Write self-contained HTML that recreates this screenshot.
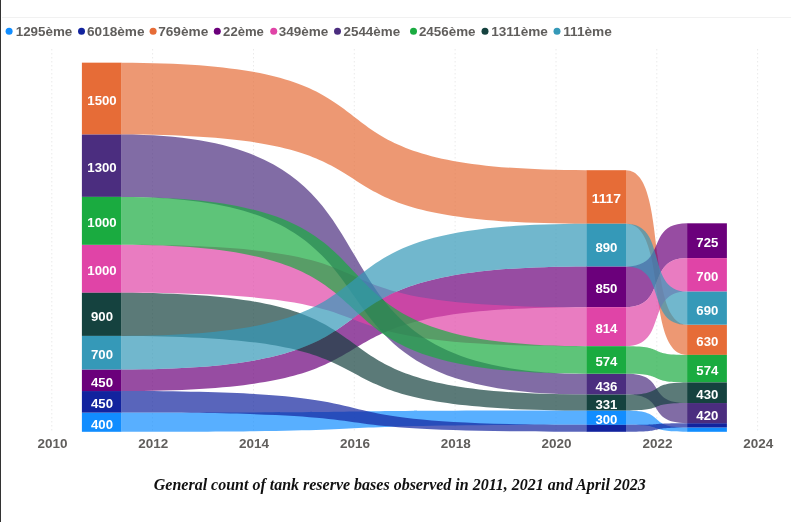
<!DOCTYPE html>
<html><head><meta charset="utf-8"><title>Ribbon chart</title>
<style>
html,body{margin:0;padding:0;background:#fff;}
body{width:791px;height:522px;position:relative;overflow:hidden;font-family:"Liberation Sans",sans-serif;}
.lb{position:absolute;left:0;top:0;width:1px;height:522px;background:#333;}
.hl{position:absolute;left:2px;top:17px;width:789px;height:1px;background:#f1f1f1;}
text{font-family:"Liberation Sans",sans-serif;font-weight:bold;}
.bl{fill:#fff;font-size:12.2px;}
.ax{fill:#605e5c;font-size:12.2px;}
.lg{fill:#605e5c;font-size:12.7px;}
.cap{font-family:"Liberation Serif",serif;font-style:italic;font-weight:bold;font-size:16px;fill:#111;}
</style></head><body>
<svg width="791" height="522" viewBox="0 0 791 522" style="position:absolute;left:0;top:0">
<line x1="51.8" y1="49" x2="51.8" y2="432" stroke="#eaeaea" stroke-width="1" stroke-dasharray="1.5,2.5"/>
<line x1="152.6" y1="49" x2="152.6" y2="432" stroke="#eaeaea" stroke-width="1" stroke-dasharray="1.5,2.5"/>
<line x1="253.5" y1="49" x2="253.5" y2="432" stroke="#eaeaea" stroke-width="1" stroke-dasharray="1.5,2.5"/>
<line x1="354.3" y1="49" x2="354.3" y2="432" stroke="#eaeaea" stroke-width="1" stroke-dasharray="1.5,2.5"/>
<line x1="455.1" y1="49" x2="455.1" y2="432" stroke="#eaeaea" stroke-width="1" stroke-dasharray="1.5,2.5"/>
<line x1="556.0" y1="49" x2="556.0" y2="432" stroke="#eaeaea" stroke-width="1" stroke-dasharray="1.5,2.5"/>
<line x1="656.8" y1="49" x2="656.8" y2="432" stroke="#eaeaea" stroke-width="1" stroke-dasharray="1.5,2.5"/>
<line x1="757.6" y1="49" x2="757.6" y2="432" stroke="#eaeaea" stroke-width="1" stroke-dasharray="1.5,2.5"/>
<path d="M121.50,412.62 C446.86,412.62 260.94,410.47 586.30,410.47 L586.30,424.85 C260.94,424.85 446.86,431.80 121.50,431.80 Z" fill="#118DFF" fill-opacity="0.7"/>
<path d="M626.00,410.47 C668.77,410.47 644.33,427.49 687.10,427.49 L687.10,431.80 C644.33,431.80 668.77,424.85 626.00,424.85 Z" fill="#118DFF" fill-opacity="0.7"/>
<path d="M121.50,391.05 C446.86,391.05 260.94,424.85 586.30,424.85 L586.30,431.80 C260.94,431.80 446.86,412.62 121.50,412.62 Z" fill="#12239E" fill-opacity="0.7"/>
<path d="M626.00,424.85 C668.77,424.85 644.33,423.17 687.10,423.17 L687.10,427.49 C644.33,427.49 668.77,431.80 626.00,431.80 Z" fill="#12239E" fill-opacity="0.7"/>
<path d="M121.50,62.66 C446.86,62.66 260.94,170.19 586.30,170.19 L586.30,223.74 C260.94,223.74 446.86,134.57 121.50,134.57 Z" fill="#E66C37" fill-opacity="0.7"/>
<path d="M626.00,170.19 C668.77,170.19 644.33,324.70 687.10,324.70 L687.10,354.90 C644.33,354.90 668.77,223.74 626.00,223.74 Z" fill="#E66C37" fill-opacity="0.7"/>
<path d="M121.50,369.48 C446.86,369.48 260.94,266.41 586.30,266.41 L586.30,307.16 C260.94,307.16 446.86,391.05 121.50,391.05 Z" fill="#6B007B" fill-opacity="0.7"/>
<path d="M626.00,266.41 C668.77,266.41 644.33,223.31 687.10,223.31 L687.10,258.07 C644.33,258.07 668.77,307.16 626.00,307.16 Z" fill="#6B007B" fill-opacity="0.7"/>
<path d="M121.50,244.83 C446.86,244.83 260.94,307.16 586.30,307.16 L586.30,346.18 C260.94,346.18 446.86,292.77 121.50,292.77 Z" fill="#E044A7" fill-opacity="0.7"/>
<path d="M626.00,307.16 C668.77,307.16 644.33,258.07 687.10,258.07 L687.10,291.62 C644.33,291.62 668.77,346.18 626.00,346.18 Z" fill="#E044A7" fill-opacity="0.7"/>
<path d="M121.50,134.57 C446.86,134.57 260.94,373.70 586.30,373.70 L586.30,394.60 C260.94,394.60 446.86,196.89 121.50,196.89 Z" fill="#4B2D7F" fill-opacity="0.7"/>
<path d="M626.00,373.70 C668.77,373.70 644.33,403.04 687.10,403.04 L687.10,423.17 C644.33,423.17 668.77,394.60 626.00,394.60 Z" fill="#4B2D7F" fill-opacity="0.7"/>
<path d="M121.50,196.89 C446.86,196.89 260.94,346.18 586.30,346.18 L586.30,373.70 C260.94,373.70 446.86,244.83 121.50,244.83 Z" fill="#1AAB40" fill-opacity="0.7"/>
<path d="M626.00,346.18 C668.77,346.18 644.33,354.90 687.10,354.90 L687.10,382.42 C644.33,382.42 668.77,373.70 626.00,373.70 Z" fill="#1AAB40" fill-opacity="0.7"/>
<path d="M121.50,292.77 C446.86,292.77 260.94,394.60 586.30,394.60 L586.30,410.47 C260.94,410.47 446.86,335.92 121.50,335.92 Z" fill="#15423F" fill-opacity="0.7"/>
<path d="M626.00,394.60 C668.77,394.60 644.33,382.42 687.10,382.42 L687.10,403.04 C644.33,403.04 668.77,410.47 626.00,410.47 Z" fill="#15423F" fill-opacity="0.7"/>
<path d="M121.50,335.92 C446.86,335.92 260.94,223.74 586.30,223.74 L586.30,266.41 C260.94,266.41 446.86,369.48 121.50,369.48 Z" fill="#3599B8" fill-opacity="0.7"/>
<path d="M626.00,223.74 C668.77,223.74 644.33,291.62 687.10,291.62 L687.10,324.70 C644.33,324.70 668.77,266.41 626.00,266.41 Z" fill="#3599B8" fill-opacity="0.7"/>
<rect x="81.90" y="412.62" width="39.60" height="19.18" fill="#118DFF"/>
<rect x="81.90" y="391.05" width="39.60" height="21.57" fill="#12239E"/>
<rect x="81.90" y="62.66" width="39.60" height="71.91" fill="#E66C37"/>
<rect x="81.90" y="369.48" width="39.60" height="21.57" fill="#6B007B"/>
<rect x="81.90" y="244.83" width="39.60" height="47.94" fill="#E044A7"/>
<rect x="81.90" y="134.57" width="39.60" height="62.32" fill="#4B2D7F"/>
<rect x="81.90" y="196.89" width="39.60" height="47.94" fill="#1AAB40"/>
<rect x="81.90" y="292.77" width="39.60" height="43.15" fill="#15423F"/>
<rect x="81.90" y="335.92" width="39.60" height="33.56" fill="#3599B8"/>
<rect x="586.30" y="410.47" width="39.70" height="14.38" fill="#118DFF"/>
<rect x="586.30" y="424.85" width="39.70" height="6.95" fill="#12239E"/>
<rect x="586.30" y="170.19" width="39.70" height="53.55" fill="#E66C37"/>
<rect x="586.30" y="266.41" width="39.70" height="40.75" fill="#6B007B"/>
<rect x="586.30" y="307.16" width="39.70" height="39.02" fill="#E044A7"/>
<rect x="586.30" y="373.70" width="39.70" height="20.90" fill="#4B2D7F"/>
<rect x="586.30" y="346.18" width="39.70" height="27.52" fill="#1AAB40"/>
<rect x="586.30" y="394.60" width="39.70" height="15.87" fill="#15423F"/>
<rect x="586.30" y="223.74" width="39.70" height="42.67" fill="#3599B8"/>
<rect x="687.10" y="427.49" width="39.80" height="4.31" fill="#118DFF"/>
<rect x="687.10" y="423.17" width="39.80" height="4.31" fill="#12239E"/>
<rect x="687.10" y="324.70" width="39.80" height="30.20" fill="#E66C37"/>
<rect x="687.10" y="223.31" width="39.80" height="34.76" fill="#6B007B"/>
<rect x="687.10" y="258.07" width="39.80" height="33.56" fill="#E044A7"/>
<rect x="687.10" y="403.04" width="39.80" height="20.13" fill="#4B2D7F"/>
<rect x="687.10" y="354.90" width="39.80" height="27.52" fill="#1AAB40"/>
<rect x="687.10" y="382.42" width="39.80" height="20.61" fill="#15423F"/>
<rect x="687.10" y="291.62" width="39.80" height="33.08" fill="#3599B8"/>
<text x="91.0" y="428.6" class="bl" textLength="22.0" lengthAdjust="spacingAndGlyphs">400</text>
<text x="91.0" y="408.2" class="bl" textLength="22.0" lengthAdjust="spacingAndGlyphs">450</text>
<text x="87.3" y="105.0" class="bl" textLength="29.4" lengthAdjust="spacingAndGlyphs">1500</text>
<text x="91.0" y="386.7" class="bl" textLength="22.0" lengthAdjust="spacingAndGlyphs">450</text>
<text x="87.3" y="275.2" class="bl" textLength="29.4" lengthAdjust="spacingAndGlyphs">1000</text>
<text x="87.3" y="172.1" class="bl" textLength="29.4" lengthAdjust="spacingAndGlyphs">1300</text>
<text x="87.3" y="227.3" class="bl" textLength="29.4" lengthAdjust="spacingAndGlyphs">1000</text>
<text x="91.0" y="320.7" class="bl" textLength="22.0" lengthAdjust="spacingAndGlyphs">900</text>
<text x="91.0" y="359.1" class="bl" textLength="22.0" lengthAdjust="spacingAndGlyphs">700</text>
<text x="595.4" y="424.1" class="bl" textLength="22.0" lengthAdjust="spacingAndGlyphs">300</text>
<text x="591.7" y="203.4" class="bl" textLength="29.4" lengthAdjust="spacingAndGlyphs">1117</text>
<text x="595.4" y="293.2" class="bl" textLength="22.0" lengthAdjust="spacingAndGlyphs">850</text>
<text x="595.4" y="333.1" class="bl" textLength="22.0" lengthAdjust="spacingAndGlyphs">814</text>
<text x="595.4" y="390.5" class="bl" textLength="22.0" lengthAdjust="spacingAndGlyphs">436</text>
<text x="595.4" y="366.3" class="bl" textLength="22.0" lengthAdjust="spacingAndGlyphs">574</text>
<text x="595.4" y="408.9" class="bl" textLength="22.0" lengthAdjust="spacingAndGlyphs">331</text>
<text x="595.4" y="251.5" class="bl" textLength="22.0" lengthAdjust="spacingAndGlyphs">890</text>
<text x="696.3" y="346.2" class="bl" textLength="22.0" lengthAdjust="spacingAndGlyphs">630</text>
<text x="696.3" y="247.1" class="bl" textLength="22.0" lengthAdjust="spacingAndGlyphs">725</text>
<text x="696.3" y="281.2" class="bl" textLength="22.0" lengthAdjust="spacingAndGlyphs">700</text>
<text x="696.3" y="419.5" class="bl" textLength="22.0" lengthAdjust="spacingAndGlyphs">420</text>
<text x="696.3" y="375.1" class="bl" textLength="22.0" lengthAdjust="spacingAndGlyphs">574</text>
<text x="696.3" y="399.1" class="bl" textLength="22.0" lengthAdjust="spacingAndGlyphs">430</text>
<text x="696.3" y="314.6" class="bl" textLength="22.0" lengthAdjust="spacingAndGlyphs">690</text>
<text x="37.4" y="448.4" class="ax" textLength="30" lengthAdjust="spacingAndGlyphs">2010</text>
<text x="138.2" y="448.4" class="ax" textLength="30" lengthAdjust="spacingAndGlyphs">2012</text>
<text x="239.1" y="448.4" class="ax" textLength="30" lengthAdjust="spacingAndGlyphs">2014</text>
<text x="339.9" y="448.4" class="ax" textLength="30" lengthAdjust="spacingAndGlyphs">2016</text>
<text x="440.7" y="448.4" class="ax" textLength="30" lengthAdjust="spacingAndGlyphs">2018</text>
<text x="541.6" y="448.4" class="ax" textLength="30" lengthAdjust="spacingAndGlyphs">2020</text>
<text x="642.4" y="448.4" class="ax" textLength="30" lengthAdjust="spacingAndGlyphs">2022</text>
<text x="743.2" y="448.4" class="ax" textLength="30" lengthAdjust="spacingAndGlyphs">2024</text>
<circle cx="9.1" cy="31.3" r="3.5" fill="#118DFF"/>
<text x="15.7" y="36.3" class="lg" textLength="56.6" lengthAdjust="spacingAndGlyphs">1295ème</text>
<circle cx="81.5" cy="31.3" r="3.5" fill="#12239E"/>
<text x="87.0" y="36.3" class="lg" textLength="57.5" lengthAdjust="spacingAndGlyphs">6018ème</text>
<circle cx="153.1" cy="31.3" r="3.5" fill="#E66C37"/>
<text x="158.2" y="36.3" class="lg" textLength="50.1" lengthAdjust="spacingAndGlyphs">769ème</text>
<circle cx="217.3" cy="31.3" r="3.5" fill="#6B007B"/>
<text x="223.1" y="36.3" class="lg" textLength="40.8" lengthAdjust="spacingAndGlyphs">22ème</text>
<circle cx="273.7" cy="31.3" r="3.5" fill="#E044A7"/>
<text x="278.8" y="36.3" class="lg" textLength="49.5" lengthAdjust="spacingAndGlyphs">349ème</text>
<circle cx="337.5" cy="31.3" r="3.5" fill="#4B2D7F"/>
<text x="343.5" y="36.3" class="lg" textLength="56.6" lengthAdjust="spacingAndGlyphs">2544ème</text>
<circle cx="413.5" cy="31.3" r="3.5" fill="#1AAB40"/>
<text x="418.9" y="36.3" class="lg" textLength="56.6" lengthAdjust="spacingAndGlyphs">2456ème</text>
<circle cx="485" cy="31.3" r="3.5" fill="#15423F"/>
<text x="491.2" y="36.3" class="lg" textLength="56.7" lengthAdjust="spacingAndGlyphs">1311ème</text>
<circle cx="557" cy="31.3" r="3.5" fill="#3599B8"/>
<text x="563.2" y="36.3" class="lg" textLength="48.7" lengthAdjust="spacingAndGlyphs">111ème</text>
<text x="153.8" y="490.3" class="cap" textLength="492" lengthAdjust="spacingAndGlyphs">General count of tank reserve bases observed in 2011, 2021 and April 2023</text>
</svg>
<div class="lb"></div><div class="hl"></div>
</body></html>
